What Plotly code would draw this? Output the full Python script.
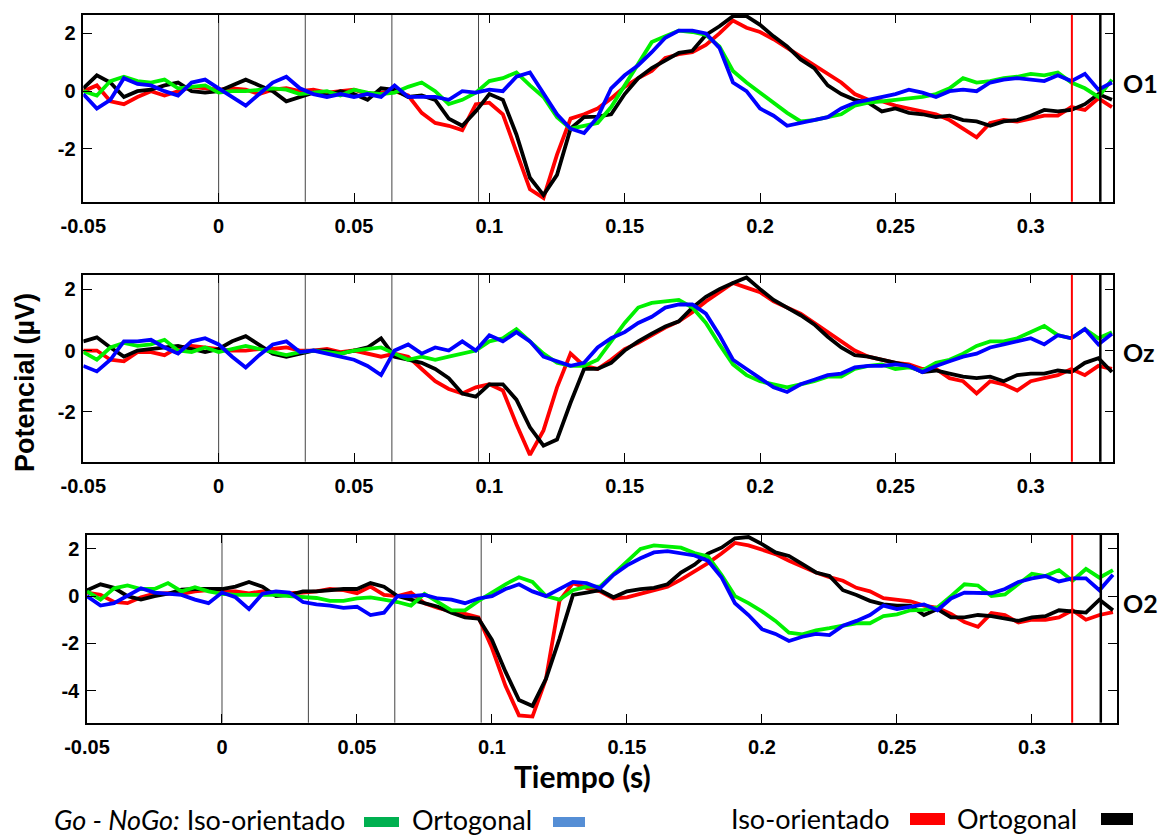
import plotly.graph_objects as go

# ---------------- data ----------------
# sample times (s), every 5 ms from -0.05 to 0.33
times = [round(-0.05 + 0.005 * i, 3) for i in range(77)]

x_tickvals = [-0.05, 0, 0.05, 0.1, 0.15, 0.2, 0.25, 0.3]
x_ticktext = ["-0.05", "0", "0.05", "0.1", "0.15", "0.2", "0.25", "0.3"]
stim_lines = [0, 0.032, 0.064, 0.096]
channels = ["O1", "Oz", "O2"]

O1_red = [0.0, 0.2, -0.35, -0.45, -0.2, 0.0, -0.15, 0.0, 0.15, 0.1,
          0.05, 0.1, 0.05, -0.1, 0.05, 0.1, 0.0, 0.05, -0.05, 0.0,
          0.05, -0.1, -0.05, 0.0, -0.15, -0.75, -1.1, -1.2, -1.35, -0.45,
          -0.4, -0.8, -2.1, -3.4, -3.7, -2.2, -0.95, -0.8, -0.6, -0.25,
          0.15, 0.45, 0.7, 1.15, 1.28, 1.35, 1.6, 2.0, 2.45, 2.2,
          2.05, 1.8, 1.5, 1.2, 0.9, 0.6, 0.3, -0.1, -0.3, -0.35,
          -0.5, -0.6, -0.7, -0.8, -1.0, -1.3, -1.6, -1.1, -1.0, -1.05,
          -0.95, -0.85, -0.85, -0.55, -0.65, -0.25, -0.55]
O1_black = [0.1, 0.55, 0.3, -0.2, 0.0, 0.05, 0.2, 0.3, 0.0, -0.05,
            0.0, 0.2, 0.4, 0.2, 0.0, -0.35, -0.2, -0.05, -0.15, 0.0,
            -0.1, -0.3, 0.1, 0.05, -0.2, -0.15, -0.3, -0.95, -1.2, -0.7,
            -0.1, -0.3, -1.5, -3.0, -3.6, -2.9, -1.3, -0.9, -0.88, -0.8,
            -0.1, 0.45, 0.8, 1.05, 1.33, 1.4, 1.95, 2.25, 2.6, 2.6,
            2.3, 1.9, 1.55, 1.1, 0.8, 0.2, -0.1, -0.3, -0.4, -0.7,
            -0.6, -0.75, -0.8, -0.9, -0.85, -1.0, -1.05, -1.2, -1.05, -1.0,
            -0.85, -0.65, -0.7, -0.65, -0.45, -0.1, -0.3]
O1_green = [0.0, -0.15, 0.35, 0.5, 0.35, 0.3, 0.4, 0.1, 0.15, 0.2,
            -0.05, 0.0, 0.0, 0.05, 0.1, 0.05, -0.1, -0.05, 0.0, -0.15,
            0.05, -0.05, -0.1, -0.05, 0.15, 0.3, 0.0, -0.45, -0.3, -0.05,
            0.35, 0.45, 0.65, 0.2, -0.2, -0.9, -1.3, -1.2, -1.1, -0.55,
            0.2, 0.9, 1.7, 1.9, 2.1, 2.05, 1.95, 1.55, 0.7, 0.3,
            -0.05, -0.4, -0.75, -1.05, -1.0, -0.9, -0.8, -0.5, -0.4, -0.35,
            -0.3, -0.25, -0.2, -0.1, 0.1, 0.45, 0.3, 0.35, 0.45, 0.5,
            0.6, 0.55, 0.65, 0.3, 0.1, -0.2, 0.4]
O1_blue = [-0.1, -0.6, -0.3, 0.45, 0.25, 0.2, 0.0, -0.15, 0.3, 0.4,
           0.1, -0.2, -0.5, -0.1, 0.3, 0.5, 0.1, -0.1, -0.2, -0.1,
           -0.2, -0.1, -0.2, 0.2, -0.2, -0.2, -0.2, -0.3, 0.0, -0.05,
           0.05, 0.0, 0.5, 0.65, -0.1, -0.8, -1.3, -1.45, -0.9, 0.1,
           0.55, 0.9, 1.35, 1.85, 2.1, 2.1, 2.0, 1.5, 0.3, 0.0,
           -0.6, -0.85, -1.2, -1.1, -1.0, -0.9, -0.6, -0.4, -0.3, -0.2,
           -0.1, 0.05, -0.05, -0.2, 0.0, 0.05, 0.0, 0.3, 0.4, 0.45,
           0.4, 0.35, 0.55, 0.35, 0.6, 0.05, 0.3]

Oz_red = [0.0, 0.0, -0.3, -0.35, -0.05, -0.05, -0.15, 0.1, 0.15, 0.1,
          0.05, 0.0, 0.0, 0.05, 0.05, 0.1, 0.0, 0.0, 0.05, -0.05,
          0.0, -0.1, -0.2, -0.1, -0.2, -0.6, -1.0, -1.25, -1.4, -1.2,
          -1.1, -1.3, -2.4, -3.4, -2.6, -1.2, -0.1, -0.5, -0.6, -0.3,
          0.05, 0.25, 0.5, 0.75, 0.95, 1.25, 1.6, 1.9, 2.2, 2.05,
          1.9, 1.6, 1.4, 1.2, 0.9, 0.6, 0.3, 0.0, -0.2, -0.3,
          -0.4, -0.45, -0.6, -0.6, -0.9, -1.0, -1.4, -1.0, -1.1, -1.3,
          -1.0, -0.9, -0.8, -0.6, -0.8, -0.5, -0.6]
Oz_black = [0.3, 0.43, 0.1, -0.2, 0.0, 0.05, 0.1, 0.15, 0.05, -0.05,
            0.05, 0.3, 0.47, 0.2, -0.1, -0.2, -0.1, 0.0, 0.0, -0.1,
            0.0, 0.1, 0.4, -0.2, -0.3, -0.4, -0.6, -0.9, -1.4, -1.5,
            -1.1, -1.1, -1.6, -2.5, -3.1, -2.9, -1.7, -0.6, -0.6, -0.4,
            0.0, 0.3, 0.55, 0.78, 0.95, 1.4, 1.75, 2.0, 2.2, 2.38,
            2.0, 1.65, 1.4, 1.15, 0.85, 0.45, 0.1, -0.15, -0.2, -0.3,
            -0.4, -0.5, -0.7, -0.65, -0.75, -0.85, -0.9, -0.85, -1.0, -0.8,
            -0.75, -0.75, -0.65, -0.7, -0.4, -0.25, -0.7]
Oz_green = [-0.05, -0.3, 0.1, 0.25, 0.15, 0.2, 0.35, 0.0, -0.05, 0.1,
            -0.05, 0.05, 0.15, 0.05, -0.05, -0.15, -0.05, 0.0, -0.05, -0.1,
            0.0, 0.05, 0.1, -0.1, -0.3, -0.2, -0.3, -0.2, -0.1, 0.0,
            0.3, 0.4, 0.7, 0.3, -0.1, -0.4, -0.5, -0.5, -0.3, 0.3,
            0.9, 1.4, 1.55, 1.6, 1.65, 1.4, 0.9, 0.2, -0.45, -0.8,
            -1.0, -1.1, -1.2, -1.1, -1.0, -0.85, -0.85, -0.6, -0.5, -0.45,
            -0.6, -0.55, -0.65, -0.4, -0.3, -0.1, 0.15, 0.3, 0.3, 0.4,
            0.6, 0.8, 0.5, 0.4, 0.7, 0.4, 0.6]
Oz_blue = [-0.5, -0.68, -0.3, 0.3, 0.3, 0.35, 0.1, -0.1, 0.3, 0.4,
           0.2, -0.2, -0.55, -0.15, 0.2, 0.3, -0.05, 0.0, -0.1, -0.2,
           -0.3, -0.5, -0.8, 0.0, 0.2, -0.1, 0.1, 0.0, 0.3, 0.0,
           0.5, 0.3, 0.6, 0.3, -0.2, -0.35, -0.5, -0.4, 0.1, 0.4,
           0.6, 0.9, 1.1, 1.4, 1.5, 1.5, 1.2, 0.5, -0.3, -0.6,
           -0.9, -1.2, -1.35, -1.1, -0.95, -0.8, -0.75, -0.55, -0.5, -0.5,
           -0.45, -0.5, -0.7, -0.5, -0.35, -0.2, -0.1, 0.1, 0.2, 0.3,
           0.4, 0.2, 0.5, 0.4, 0.7, 0.2, 0.55]

O2_red = [0.15, 0.05, -0.25, -0.3, -0.05, 0.1, 0.12, 0.1, 0.2, 0.25,
          0.2, 0.2, 0.12, 0.2, 0.15, 0.12, 0.15, 0.2, 0.3, 0.25,
          0.12, 0.4, 0.05, 0.0, 0.15, -0.3, -0.5, -0.65, -0.75, -0.9,
          -2.2, -3.8, -5.05, -5.1, -3.5, -0.2, 0.55, 0.35, 0.2, -0.1,
          -0.05, 0.1, 0.25, 0.4, 0.7, 1.05, 1.4, 1.8, 2.25, 2.15,
          1.98, 1.78, 1.5, 1.25, 1.0, 0.8, 0.65, 0.35, 0.2, -0.09,
          -0.16, -0.22, -0.4, -0.5, -0.75, -1.1, -1.3, -0.72, -0.8, -1.12,
          -1.0, -1.0, -0.9, -0.6, -1.0, -0.8, -0.68]
O2_black = [0.25, 0.5, 0.35, 0.0, -0.15, 0.0, 0.1, 0.27, 0.3, 0.28,
            0.3, 0.4, 0.6, 0.4, 0.0, 0.05, 0.2, 0.2, 0.25, 0.3,
            0.3, 0.55, 0.4, 0.0, -0.15, -0.3, -0.45, -0.7, -0.9, -0.95,
            -1.85, -3.2, -4.4, -4.65, -3.5, -1.8, 0.05, 0.15, 0.25, -0.05,
            0.2, 0.3, 0.35, 0.5, 1.0, 1.33, 1.8, 2.05, 2.45, 2.5,
            2.2, 1.85, 1.7, 1.35, 1.0, 0.85, 0.25, 0.05, -0.2, -0.35,
            -0.4, -0.4, -0.8, -0.55, -0.9, -0.9, -0.8, -0.85, -0.95, -1.05,
            -0.9, -0.85, -0.6, -0.65, -0.7, -0.15, -0.6]
O2_green = [0.2, -0.15, 0.33, 0.45, 0.3, 0.3, 0.55, 0.2, 0.38, 0.2,
            0.1, 0.05, 0.05, 0.05, 0.05, 0.0, -0.05, -0.08, -0.2, -0.2,
            -0.1, -0.05, -0.15, -0.25, -0.4, 0.1, -0.25, -0.6, -0.6, -0.2,
            0.15, 0.5, 0.8, 0.6, 0.0, -0.15, 0.25, 0.4, 0.4, 0.95,
            1.5, 2.0, 2.15, 2.1, 2.05, 1.82, 1.68, 0.9, 0.0, -0.3,
            -0.65, -1.05, -1.55, -1.62, -1.45, -1.36, -1.25, -1.15, -1.15, -0.85,
            -0.77, -0.6, -0.58, -0.48, 0.0, 0.5, 0.45, 0.0, 0.07, 0.5,
            0.95, 0.85, 1.1, 0.65, 1.15, 0.78, 1.1]
O2_blue = [0.0, -0.4, -0.3, 0.0, 0.33, 0.15, 0.1, 0.05, -0.15, -0.3,
           0.15, -0.05, -0.55, 0.1, 0.2, 0.15, -0.25, -0.35, -0.4, -0.5,
           -0.45, -0.8, -0.7, 0.0, 0.0, 0.05, -0.1, -0.15, -0.3, -0.1,
           0.0, 0.3, 0.5, 0.2, 0.0, 0.3, 0.6, 0.55, 0.33, 0.9,
           1.3, 1.6, 1.85, 1.9, 1.8, 1.72, 1.5, 0.8, -0.3, -0.8,
           -1.4, -1.6, -1.9, -1.72, -1.6, -1.65, -1.25, -1.05, -0.8, -0.4,
           -0.55, -0.45, -0.35, -0.6, -0.1, 0.15, 0.15, 0.12, 0.3, 0.6,
           0.75, 0.85, 0.62, 0.75, 0.75, 0.25, 0.9]

# per-panel y ticks
y_tickvals = [[-2, 0, 2], [-2, 0, 2], [-4, -2, 0, 2]]
y_ticktext = [["-2", "0", "2"], ["-2", "0", "2"], ["-4", "-2", "0", "2"]]
# latency markers (s): red = Iso-orientado, black = Ortogonal
red_marker = [0.3152, 0.3152, 0.3149]
black_marker = [0.3257, 0.3257, 0.3255]

# ---------------- layout geometry ----------------
W, H = 1168, 837
panels = [
    dict(x=(83.3, 1113.3), y=(14.7, 201.7), xr=[-0.05, 0.3305], yr=[-3.83, 2.65],
         data=(O1_red, O1_black, O1_green, O1_blue), lab_y=83),
    dict(x=(83.3, 1113.3), y=(274.7, 461.7), xr=[-0.05, 0.3305], yr=[-3.62, 2.47],
         data=(Oz_red, Oz_black, Oz_green, Oz_blue), lab_y=352),
    dict(x=(87, 1117), y=(534.7, 722.7), xr=[-0.05, 0.3315], yr=[-5.36, 2.6],
         data=(O2_red, O2_black, O2_green, O2_blue), lab_y=603),
]
trace_colors = ["#ff0000", "#000000", "#00f000", "#0000ff"]

fig = go.Figure()
shapes = []
annotations = []
tickfont = dict(family="Liberation Sans, Arial", size=20, color="black", weight="bold")

for i, p in enumerate(panels):
    sfx = "" if i == 0 else str(i + 1)
    xref, yref = "x" + sfx, "y" + sfx
    for ys, col in zip(p["data"], trace_colors):
        fig.add_trace(go.Scatter(x=times, y=ys, mode="lines", xaxis=xref, yaxis=yref,
                                 line=dict(color=col, width=3.8), showlegend=False,
                                 hoverinfo="skip"))
    xd = [p["x"][0] / W, p["x"][1] / W]
    yd = [1 - p["y"][1] / H, 1 - p["y"][0] / H]
    fig.layout["xaxis" + sfx] = dict(
        domain=xd, range=p["xr"], anchor=yref, showgrid=False, zeroline=False,
        automargin=False,
        showline=True, linecolor="black", linewidth=1.5, mirror="ticks",
        ticks="inside", ticklen=9, tickwidth=1, tickcolor="black",
        tickvals=x_tickvals, ticktext=x_ticktext, tickfont=tickfont,
        ticklabelstandoff=6)
    fig.layout["yaxis" + sfx] = dict(
        domain=yd, range=p["yr"], anchor=xref, showgrid=False, zeroline=False,
        automargin=False,
        showline=True, linecolor="black", linewidth=1.5, mirror="ticks",
        ticks="inside", ticklen=9, tickwidth=1, tickcolor="black",
        tickvals=y_tickvals[i], ticktext=y_ticktext[i], tickfont=tickfont,
        ticklabelstandoff=2)
    for t in stim_lines:
        shapes.append(dict(type="line", xref=xref, yref=yref + " domain", x0=t, x1=t,
                           y0=0, y1=1, line=dict(color="#444444", width=1), layer="below"))
    shapes.append(dict(type="line", xref=xref, yref=yref + " domain", x0=red_marker[i],
                       x1=red_marker[i], y0=0, y1=1, line=dict(color="#ff0000", width=2)))
    shapes.append(dict(type="line", xref=xref, yref=yref + " domain", x0=black_marker[i],
                       x1=black_marker[i], y0=0, y1=1, line=dict(color="#000000", width=2.5)))
    annotations.append(dict(text="<b>" + channels[i] + "</b>", xref="paper", yref="paper",
                            x=1121 / W, y=1 - p["lab_y"] / H, xanchor="left", yanchor="middle",
                            showarrow=False, font=dict(family="Lato", size=25, color="black")))

# axis titles
annotations.append(dict(text="<b>Tiempo (s)</b>", xref="paper", yref="paper",
                        x=582 / W, y=1 - 776 / H, xanchor="center", yanchor="middle",
                        showarrow=False, font=dict(family="Lato", size=30, color="black")))
annotations.append(dict(text="<b>Potencial (µV)</b>", xref="paper", yref="paper",
                        x=25 / W, y=1 - 383 / H, xanchor="center", yanchor="middle",
                        textangle=-90, showarrow=False,
                        font=dict(family="Liberation Sans, Arial", size=27, color="black")))

# custom legend
leg_font = dict(family="Lato", size=27, color="black")
legend_texts = [("<i>Go - NoGo:</i> Iso-orientado", 52, 819), ("Ortogonal", 410, 819),
                ("Iso-orientado", 729, 818), ("Ortogonal", 955, 818)]
for txt, lx, ly in legend_texts:
    annotations.append(dict(text=txt, xref="paper", yref="paper", x=lx / W, y=1 - ly / H,
                            xanchor="left", yanchor="middle", showarrow=False, font=leg_font))
swatches = [("#00b050", 364, 399, 817, 827), ("#558ed5", 553, 585, 817, 827),
            ("#ff0000", 910, 945, 813, 825), ("#000000", 1101, 1133, 813, 825)]
for col, x0, x1, y0, y1 in swatches:
    shapes.append(dict(type="rect", xref="paper", yref="paper", x0=x0 / W, x1=x1 / W,
                       y0=1 - y1 / H, y1=1 - y0 / H, fillcolor=col, line=dict(width=0)))

fig.update_layout(width=W, height=H, margin=dict(l=0, r=0, t=0, b=0, autoexpand=False),
                  paper_bgcolor="white", plot_bgcolor="white",
                  shapes=shapes, annotations=annotations, showlegend=False)

fig.write_html("out.html")
